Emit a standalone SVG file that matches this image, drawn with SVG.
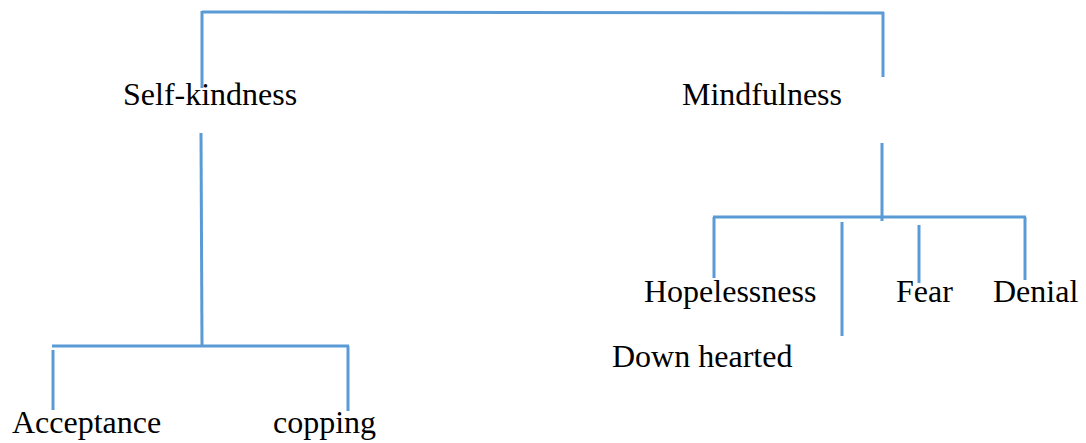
<svg xmlns="http://www.w3.org/2000/svg" width="1086" height="443" viewBox="0 0 1086 443">
<style>
.t{font-family:"Liberation Serif","Times New Roman",serif;font-size:32px;fill:#000}
.c line{stroke:#5B9BD5;stroke-width:3;fill:none}
</style>
<rect width="1086" height="443" fill="#fff"/>
<g class="c" id="connectors">
<line x1="202" y1="11" x2="202" y2="88"/>
<line x1="202" y1="12" x2="884" y2="13"/>
<line x1="883" y1="12" x2="883" y2="77"/>
<line x1="201" y1="133" x2="202" y2="345"/>
<line x1="52" y1="346" x2="349" y2="346"/>
<line x1="53" y1="350" x2="53" y2="410"/>
<line x1="348" y1="346" x2="348" y2="411"/>
<line x1="882" y1="143" x2="882" y2="221"/>
<line x1="713" y1="217" x2="1026" y2="217"/>
<line x1="714" y1="217" x2="714" y2="278"/>
<line x1="842" y1="222" x2="842" y2="336"/>
<line x1="919" y1="225" x2="919" y2="283"/>
<line x1="1025" y1="217" x2="1025" y2="280"/>
</g>
<g id="self-kindness"><text class="t" x="123" y="105">Self-kindness</text></g>
<g id="mindfulness"><text class="t" x="682" y="105">Mindfulness</text></g>
<g id="acceptance"><text class="t" x="12" y="433">Acceptance</text></g>
<g id="copping"><text class="t" x="273" y="433">copping</text></g>
<g id="hopelessness"><text class="t" x="644" y="302">Hopelessness</text></g>
<g id="down-hearted"><text class="t" x="612" y="367">Down hearted</text></g>
<g id="fear"><text class="t" x="896" y="302">Fear</text></g>
<g id="denial"><text class="t" x="993" y="302">Denial</text></g>
</svg>
